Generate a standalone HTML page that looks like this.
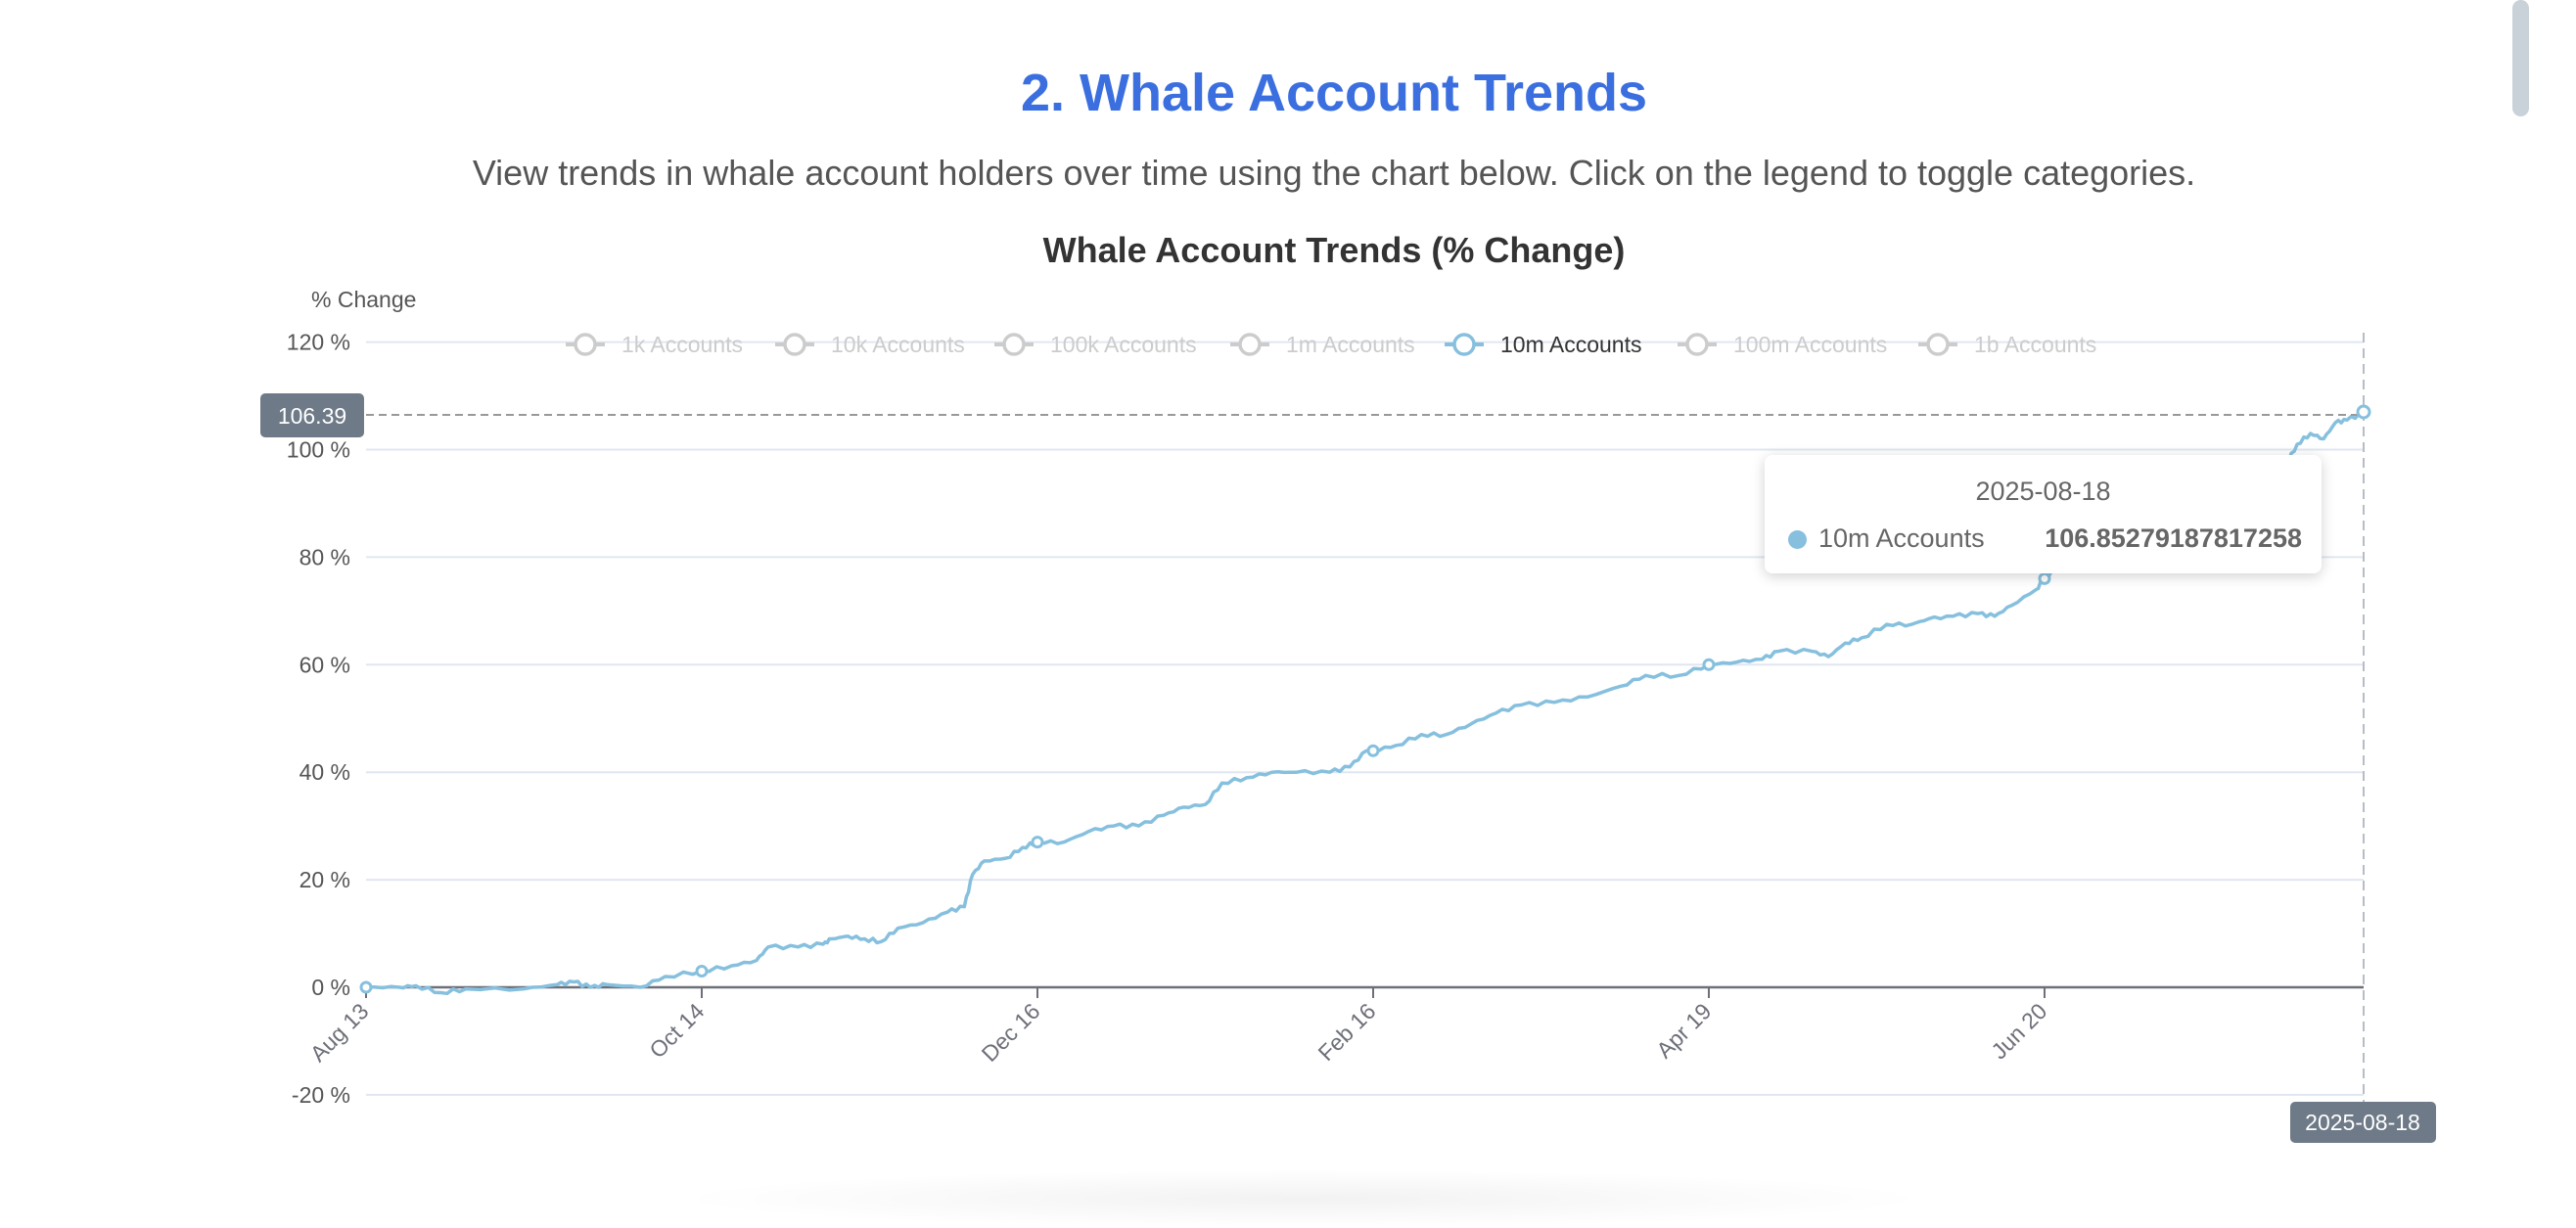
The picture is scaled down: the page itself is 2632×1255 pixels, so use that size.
<!DOCTYPE html>
<html><head><meta charset="utf-8"><style>
html,body{margin:0;padding:0;background:#fff;width:2632px;height:1226px;overflow:hidden;font-family:"Liberation Sans",Arial,sans-serif}
.h{position:absolute;left:0;width:2560px;text-align:center}
</style></head><body>
<div class="h" style="top:64px;font-size:54px;font-weight:bold;color:#3b6fe0;left:0;width:2726px">2. Whale Account Trends</div>
<div class="h" style="top:156px;font-size:36px;color:#555;width:2726px">View trends in whale account holders over time using the chart below. Click on the legend to toggle categories.</div>
<div style="position:absolute;left:2567px;top:0;width:17px;height:119px;border-radius:9px;background:#c9d1d9"></div>
<div style="position:absolute;left:680px;top:1195px;width:1300px;height:60px;border-radius:50%;background:radial-gradient(ellipse at center,rgba(0,0,0,0.05),rgba(0,0,0,0) 70%)"></div>
<svg id="s" width="2632" height="1226" style="position:absolute;left:0;top:0" font-family="Liberation Sans, Arial, sans-serif">
<text x="1363" y="268" text-anchor="middle" font-size="36" font-weight="bold" fill="#333">Whale Account Trends (% Change)</text>
<text x="318" y="314" font-size="23" fill="#555">% Change</text>
<g id="grid"></g>
<g id="leg" font-size="23"></g>
<path id="line" fill="none" stroke="#86c0de" stroke-width="3.5" stroke-linejoin="round"/>
<g id="mk"></g>
<line x1="374" y1="424" x2="2415" y2="424" stroke="#999" stroke-width="2" stroke-dasharray="8,5"/>
<line x1="2415" y1="340" x2="2415" y2="1126" stroke="#b8bcc8" stroke-width="2" stroke-dasharray="10,6"/>
<circle cx="2415" cy="421" r="6" fill="#fff" stroke="#86c0de" stroke-width="3"/>
<rect x="266" y="402" width="106" height="45" rx="5" fill="#6e7a87"/>
<text x="319" y="433" text-anchor="middle" font-size="23" fill="#fff">106.39</text>
<rect x="2340" y="1126" width="149" height="42" rx="5" fill="#6e7a87"/>
<text x="2414" y="1155" text-anchor="middle" font-size="23" fill="#fff">2025-08-18</text>
<g id="xl" font-size="23" fill="#6e7079"></g>
</svg>
<div style="position:absolute;left:1803px;top:465px;width:569px;height:121px;background:#fff;border-radius:8px;box-shadow:0 3px 14px rgba(0,0,0,0.18);font-size:27px;color:#666">
<div style="position:absolute;top:22px;width:100%;text-align:center">2025-08-18</div>
<div style="position:absolute;left:24px;top:77px;width:19px;height:19px;border-radius:50%;background:#86c0de"></div>
<div style="position:absolute;left:55px;top:70px">10m Accounts</div>
<div style="position:absolute;right:20px;top:70px;font-weight:bold">106.85279187817258</div>
</div>
<script>
var NS="http://www.w3.org/2000/svg";
function el(t,a,p,txt){var e=document.createElementNS(NS,t);for(var k in a)e.setAttribute(k,a[k]);if(txt!=null)e.textContent=txt;document.getElementById(p).appendChild(e);return e;}
function Y(v){return 1009-v*5.495;}
function X(d){return 374+(d-220)*1.698;}
for(var v=-20;v<=120;v+=20){var y=Y(v);
 if(v!==0)el("line",{x1:374,y1:y,x2:2415,y2:y,stroke:"#e0e6f1","stroke-width":2},"grid");
 el("text",{x:358,y:y+8,"text-anchor":"end","font-size":23,fill:"#555"},"grid",v+" %");}
el("line",{x1:374,y1:1009,x2:2415,y2:1009,stroke:"#6e7079","stroke-width":2.5},"grid");
var tx=[220,422,624,826,1028,1230],tl=["Aug 13","Oct 14","Dec 16","Feb 16","Apr 19","Jun 20"];
tx.forEach(function(d,i){var x=X(d);el("line",{x1:x,y1:1009,x2:x,y2:1020,stroke:"#6e7079","stroke-width":2},"grid");
 el("text",{x:x+4,y:1035,"text-anchor":"end",transform:"rotate(-45 "+(x+4)+" 1035)"},"xl",tl[i]);});
var L=[["1k Accounts",598],["10k Accounts",812],["100k Accounts",1036],["1m Accounts",1277],["10m Accounts",1496],["100m Accounts",1734],["1b Accounts",1980]];
L.forEach(function(l){var on=l[0]=="10m Accounts",c=on?"#86c0de":"#ccc";
 el("line",{x1:l[1]-20,y1:352,x2:l[1]+20,y2:352,stroke:c,"stroke-width":4},"leg");
 el("circle",{cx:l[1],cy:352,r:10,fill:"#fff",stroke:c,"stroke-width":3.5},"leg");
 el("text",{x:l[1]+37,y:360,fill:on?"#333":"#ccc"},"leg",l[0]);});
var D=[[220,0],[240,0],[250,0.3],[265,-1],[280,-0.3],[315,-0.3],[335,0.5],[345,1],[355,0],[365,0.5],[385,0],[400,2],[422,3],[440,4],[455,5],[462,7.5],[480,7.5],[495,8],[500,9],[510,9.5],[520,9],[530,8.5],[540,11],[555,12],[570,14],[580,15],[585,21],[592,23.5],[605,24],[615,26],[624,27],[640,27],[655,29],[670,30],[685,30],[700,32],[712,33.5],[725,34],[735,38],[750,39],[765,40],[780,40],[800,40],[812,41],[822,44],[826,44],[840,45],[855,47],[870,47],[885,49],[900,51],[915,52.5],[935,53],[955,54],[975,56],[990,58],[1010,58],[1028,60],[1045,60.5],[1060,61],[1070,62.5],[1090,62.5],[1100,61.5],[1110,64],[1120,65],[1135,67.5],[1150,67.5],[1160,68.5],[1175,69],[1190,69.5],[1200,69],[1210,71],[1225,74],[1230,76],[1240,79],[1260,83],[1280,87],[1300,89],[1320,90],[1340,92],[1360,94],[1375,97],[1382,101],[1390,103],[1398,102],[1405,105],[1412,105.5],[1422,106.85]];
var p="";for(var i=0;i<D.length-1;i++){var a=D[i],b=D[i+1];for(var k=0;k<4;k++){var t=k/4,xd=a[0]+(b[0]-a[0])*t,v=a[1]+(b[1]-a[1])*t+(k?Math.sin(i*7+k*3)*0.35:0);p+=(p?"L":"M")+X(xd).toFixed(1)+","+Y(v).toFixed(1);}}
p+="L"+X(1422)+","+Y(106.85);
document.getElementById("line").setAttribute("d",p);
[[220,0],[422,3],[624,27],[826,44],[1028,60],[1230,76]].forEach(function(m){el("circle",{cx:X(m[0]),cy:Y(m[1]),r:5,fill:"#fff",stroke:"#86c0de","stroke-width":3},"mk");});
</script>
</body></html>
